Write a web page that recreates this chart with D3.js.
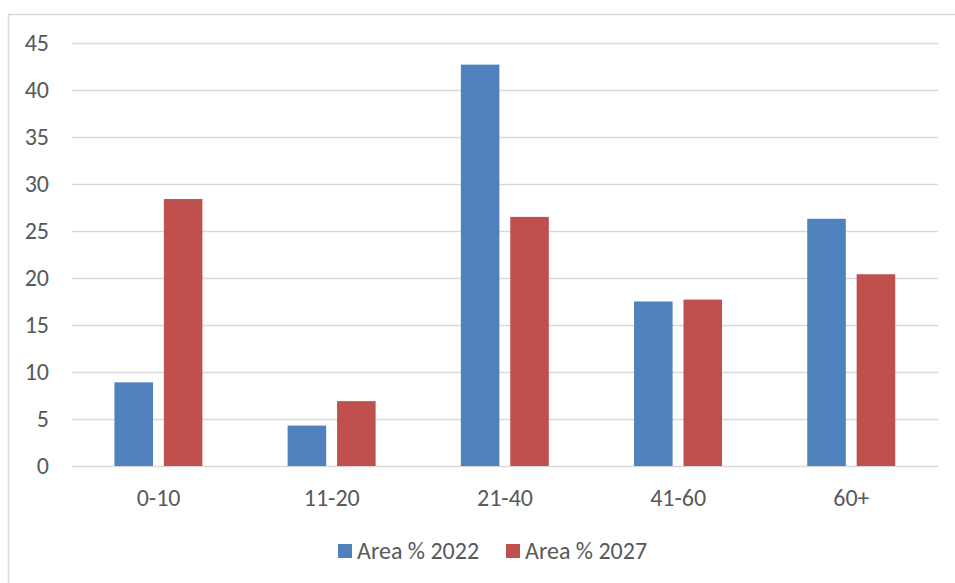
<!DOCTYPE html>
<html>
<head>
<meta charset="utf-8">
<script src="https://cdn.jsdelivr.net/npm/d3@7"></script>
<style>
  body { margin: 0; background: #fff; }
  text { font-family: Carlito, "Open Sans", sans-serif; fill: #595959; }
</style>
</head>
<body>
<div id="chart"></div>
<script>
// data
var categories = ['0-10', '11-20', '21-40', '41-60', '60+'];
var seriesNames = ['Area % 2022', 'Area % 2027'];
var area2022 = [8.9, 4.3, 42.7, 17.5, 26.3];
var area2027 = [28.4, 6.9, 26.5, 17.7, 20.4];
var yTicks = [0, 5, 10, 15, 20, 25, 30, 35, 40, 45];
var colors = ['#4F81BD', '#C0504D'];

var width = 955, height = 583;
var plot = {left: 72, right: 938, top: 43, bottom: 466};
var fontSize = '24px';

var svg = d3.select('#chart').append('svg')
    .attr('width', width)
    .attr('height', height);

// chart border
svg.append('rect')
    .attr('x', 8.5).attr('y', 14.5)
    .attr('width', 960).attr('height', 600)
    .attr('fill', 'none')
    .attr('stroke', '#d9d9d9')
    .attr('stroke-width', 1.5);

var x0 = d3.scaleBand().domain(categories).range([plot.left, plot.right]);
var x1 = d3.scaleBand().domain([0, 1])
    .range([x0.bandwidth() * 0.245, x0.bandwidth() * 0.753])
    .paddingInner(0.22);
var y = d3.scaleLinear().domain([0, 45]).range([plot.bottom, plot.top]);

// gridlines
svg.append('g').selectAll('line')
    .data(yTicks)
    .enter().append('line')
    .attr('x1', plot.left).attr('x2', plot.right)
    .attr('y1', d => Math.round(y(d)) + 0.5)
    .attr('y2', d => Math.round(y(d)) + 0.5)
    .attr('stroke', '#d9d9d9')
    .attr('stroke-width', 1.5);

// y labels
svg.append('g').selectAll('text')
    .data(yTicks)
    .enter().append('text')
    .attr('x', 49)
    .attr('y', d => y(d))
    .attr('dy', '0.35em')
    .attr('text-anchor', 'end')
    .style('font-size', fontSize)
    .text(d => d);

var rows = categories.map((c, i) => ({cat: c, vals: [area2022[i], area2027[i]]}));

var groups = svg.selectAll('.grp')
    .data(rows)
    .enter().append('g')
    .attr('class', 'grp')
    .attr('transform', d => `translate(${x0(d.cat)},0)`);

groups.selectAll('rect')
    .data(d => d.vals.map((v, k) => ({k: k, v: v})))
    .enter().append('rect')
    .attr('x', d => x1(d.k))
    .attr('y', d => y(d.v))
    .attr('width', x1.bandwidth())
    .attr('height', d => plot.bottom - y(d.v))
    .attr('fill', d => colors[d.k]);

// x labels
svg.append('g').selectAll('text')
    .data(categories)
    .enter().append('text')
    .attr('x', d => x0(d) + x0.bandwidth() / 2)
    .attr('y', 498)
    .attr('dy', '0.35em')
    .attr('text-anchor', 'middle')
    .style('font-size', fontSize)
    .text(d => d);

// legend
var legendX = [338, 506];
var legend = svg.append('g').selectAll('g')
    .data(seriesNames)
    .enter().append('g')
    .attr('transform', (d, i) => `translate(${legendX[i]},544)`);
legend.append('rect')
    .attr('width', 14).attr('height', 14)
    .attr('fill', (d, i) => colors[i]);
legend.append('text')
    .attr('x', 19).attr('y', 7)
    .attr('dy', '0.35em')
    .style('font-size', fontSize)
    .text(d => d);
</script>
</body>
</html>
